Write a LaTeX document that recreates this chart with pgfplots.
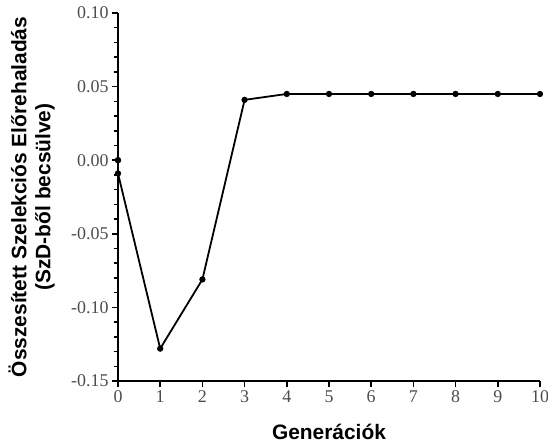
\documentclass[border=0pt]{standalone}
\usepackage{fontspec}
\setmainfont{Liberation Serif}
\newfontfamily\labelfont{Liberation Sans}
\usepackage{pgfplots}
\pgfplotsset{compat=1.18}
\begin{document}
\begin{tikzpicture}
\begin{axis}[
  name=ax,
  scale only axis,
  width=422bp, height=368bp,
  xmin=0, xmax=10, ymin=-0.15, ymax=0.10,
  axis lines=left,
  axis line style={line width=1.7bp, -},
  xtick={0,...,10},
  ytick={-0.15,-0.10,-0.05,0,0.05,0.10},
  minor y tick num=4,
  tick align=outside,
  major tick length=6bp,
  minor tick length=3.5bp,
  tick style={line width=1.5bp, black},
  yticklabel style={/pgf/number format/.cd, fixed, fixed zerofill, precision=2, assume math mode=true},
  xticklabel style={/pgf/number format/assume math mode=true},
  every tick label/.append style={font=\fontsize{18}{20}\selectfont, text=black!70},
  xlabel={\labelfont\bfseries\fontsize{21}{24}\selectfont Generációk},
  ylabel={\labelfont\bfseries\fontsize{21}{24}\selectfont\begin{tabular}{@{}c@{}}Összesített Szelekciós Előrehaladás\\(SzD-ből becsülve)\end{tabular}},
  xlabel style={at={(axis description cs:0.5,-0.1386)}, anchor=center},
  ylabel style={at={(axis description cs:-0.2014,0.5)}, anchor=center},
  clip=false,
]
% cumulative response across generations
\addplot[black, line width=1.8bp, mark=*, mark size=2.2bp] coordinates {
  (0,-0.009) (1,-0.128) (2,-0.081) (3,0.041) (4,0.045) (5,0.045)
  (6,0.045) (7,0.045) (8,0.045) (9,0.045) (10,0.045)
};
% starting value
\addplot[black, only marks, mark=*, mark size=3bp] coordinates {(0,0)};
\end{axis}
\pgfresetboundingbox
\path[use as bounding box] (ax.south west) ++(-118bp,-65bp) rectangle ([shift={(8bp,13bp)}]ax.north east);
\end{tikzpicture}
\end{document}
